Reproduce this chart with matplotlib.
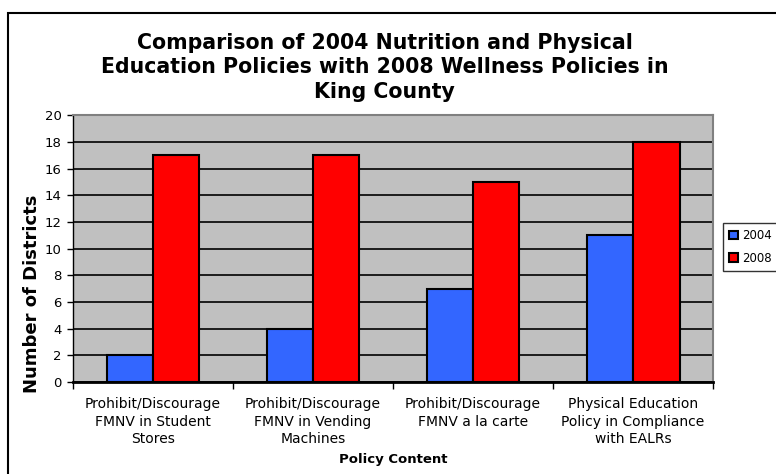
import numpy as np
import matplotlib.pyplot as plt
from matplotlib.patches import Rectangle

categories = [
    "Prohibit/Discourage\nFMNV in Student\nStores",
    "Prohibit/Discourage\nFMNV in Vending\nMachines",
    "Prohibit/Discourage\nFMNV a la carte",
    "Physical Education\nPolicy in Compliance\nwith EALRs",
]
values_2004 = [2, 4, 7, 11]
values_2008 = [17, 17, 15, 18]
series_names = ["2004", "2008"]
y_ticks = list(range(0, 21, 2))

fig = plt.figure(figsize=(7.76, 4.74), dpi=100)
ax = fig.add_axes([0.094, 0.194, 0.825, 0.563])
ax.set_facecolor("#C0C0C0")

x = np.arange(len(categories))
w = 0.29
ax.bar(x - w / 2, values_2004, w, color="#3366FF", edgecolor="black", linewidth=1.5,
       label=series_names[0], zorder=3)
ax.bar(x + w / 2, values_2008, w, color="#FF0000", edgecolor="black", linewidth=1.5,
       label=series_names[1], zorder=3)

ax.set_xlim(-0.5, len(categories) - 0.5)
ax.set_ylim(0, 20)
ax.set_yticks(y_ticks)
ax.yaxis.grid(True, color="black", linewidth=1.2, zorder=1)
ax.set_axisbelow(True)

ax.set_xticks(x)
ax.set_xticklabels(categories, fontsize=10, family="DejaVu Sans", linespacing=1.3)
ax.set_xticks(np.arange(len(categories) + 1) - 0.5, minor=True)
ax.tick_params(axis="x", which="major", length=0, pad=11)
ax.tick_params(axis="x", which="minor", length=5, width=1, direction="out")
ax.tick_params(axis="y", length=4, width=1, labelsize=9.5, pad=4)

for s in ["top", "right"]:
    ax.spines[s].set_color("#808080")
    ax.spines[s].set_linewidth(1.5)
ax.spines["left"].set_linewidth(1)
ax.spines["bottom"].set_linewidth(2)

ax.set_ylabel("Number of Districts", fontsize=13, fontweight="bold",
              family="DejaVu Sans")
ax.yaxis.set_label_coords(-0.05, 0.33)
ax.set_xlabel("Policy Content", fontsize=9.5, fontweight="bold",
              family="DejaVu Sans", labelpad=5)

fig.text(0.496, 0.858,
         "Comparison of 2004 Nutrition and Physical\n"
         "Education Policies with 2008 Wellness Policies in\n"
         "King County",
         ha="center", va="center", fontsize=14.8, fontweight="bold",
         family="DejaVu Sans", linespacing=1.28)

leg = ax.legend(loc="center left", bbox_to_anchor=(1.016, 0.506), frameon=True,
                fancybox=False, edgecolor="black", fontsize=8.5,
                handlelength=0.7, handleheight=0.7, handletextpad=0.4,
                borderpad=0.5, labelspacing=0.8, borderaxespad=0)
leg.get_frame().set_linewidth(1)

# outer chart border
fig.patches.append(Rectangle((8 / 776, -0.1), 1.2, 1 - 13 / 474 + 0.1,
                             transform=fig.transFigure, fill=False,
                             edgecolor="black", linewidth=1.5))

fig.savefig("out.png", dpi=100)
